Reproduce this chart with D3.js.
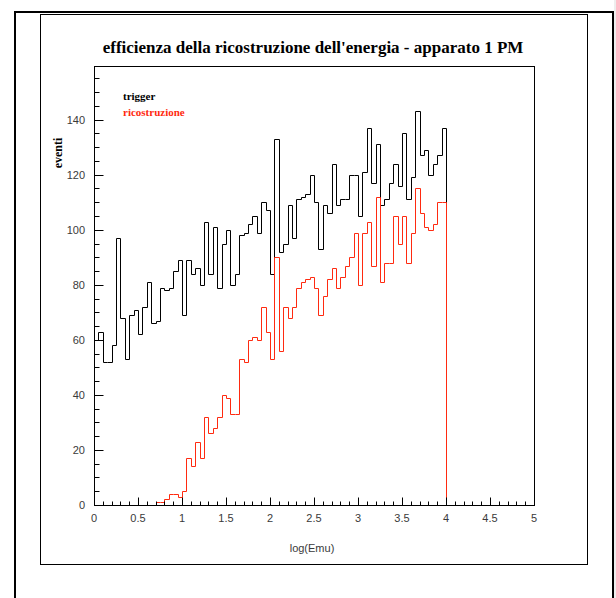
<!DOCTYPE html>
<html>
<head>
<meta charset="utf-8">
<script src="https://cdn.jsdelivr.net/npm/d3@7"></script>
<style>
  body { margin: 0; background: #fff; }
  .tick-label { font-family: "Liberation Sans", Arial, sans-serif; font-size: 11px; fill: #3a3a3a; }
</style>
</head>
<body>
<div id="viz"></div>
<script>
// bin contents, 80 bins of 0.05 from 0 to 4
var trigger = [60, 63, 52, 52, 58, 97, 68, 53, 69, 71, 62, 72, 81, 66, 67, 79, 78,
    79, 85, 89, 69, 89, 84, 86, 80, 103, 84, 101, 79, 95, 100, 80, 84, 98, 99,
    102, 105, 99, 110, 107, 84, 133, 92, 95, 109, 97, 111, 112, 113, 120, 110, 93,
    109, 106, 124, 109, 111, 111, 120, 120, 105, 121, 137, 117, 131, 109, 111, 117, 124, 116,
    135, 111, 119, 143, 127, 129, 120, 124, 127, 137];
var ricostruzione = [0, 0, 0, 0, 0, 0, 0, 0, 0, 0, 0, 0, 0, 0,
    1, 1, 2, 4, 4, 3, 5,
    17, 14, 23, 17, 32, 26, 28, 32, 40, 39, 33, 33, 53,
    52, 60, 61, 60, 72, 63, 53, 90, 56, 72, 68, 72, 79, 81, 82, 83, 79, 69,
    76, 82, 86, 79, 83, 87, 90, 99, 80, 99, 103, 87, 112, 81, 88, 88, 105, 95,
    105, 88, 99, 115, 106, 101, 100, 102, 110, 110];
var binWidth = 0.05;
var xTicks = [0, 0.5, 1, 1.5, 2, 2.5, 3, 3.5, 4, 4.5, 5];
var yTicks = [0, 20, 40, 60, 80, 100, 120, 140];
var legendLabels = ['trigger', 'ricostruzione'];
var legendColors = ['#000', '#ff2a10'];

var W = 616, H = 598;
var svg = d3.select('#viz').append('svg')
    .attr('width', W)
    .attr('height', H);

svg.append('rect').attr('width', W).attr('height', H).attr('fill', '#fff');
svg.append('rect').attr('x', 614).attr('y', 0).attr('width', 2).attr('height', H).attr('fill', '#eee');

// canvas + pad borders
svg.append('path')
    .attr('d', 'M15,' + H + ' V12 H613 V' + H)
    .attr('fill', 'none')
    .attr('stroke', '#000')
    .attr('stroke-width', 2);
svg.append('rect')
    .attr('x', 40.5).attr('y', 14.5)
    .attr('width', 547).attr('height', 550)
    .attr('fill', 'none')
    .attr('stroke', '#000');

var x = d3.scaleLinear().domain([0, 5]).range([94, 534]);
var y = d3.scaleLinear().domain([0, 159.5]).range([505, 66]);
function px(v) { return Math.round(x(v)) + 0.5; }
function py(v) { return Math.round(y(v)) + 0.5; }
var frameL = px(0), frameR = px(5), frameB = py(0), frameT = 66.5;

// title
svg.append('text')
    .attr('x', 313).attr('y', 53)
    .attr('text-anchor', 'middle')
    .style('font-family', '"Liberation Serif", "Times New Roman", serif')
    .style('font-weight', 'bold')
    .style('font-size', '17px')
    .text("efficienza della ricostruzione dell'energia - apparato 1 PM");

function histPoints(values) {
    var pts = [[0, 0]];
    values.forEach(function (v, i) { pts.push([i * binWidth, v]); });
    pts.push([values.length * binWidth, 0]);
    return pts;
}

var line = d3.line()
    .x(function (d) { return px(d[0]); })
    .y(function (d) { return py(d[1]); })
    .curve(d3.curveStepAfter);

svg.append('path')
    .attr('d', line(histPoints(trigger)))
    .attr('fill', 'none')
    .attr('stroke', legendColors[0])
    .attr('stroke-width', 1);

svg.append('path')
    .attr('d', line(histPoints(ricostruzione)))
    .attr('fill', 'none')
    .attr('stroke', legendColors[1])
    .attr('stroke-width', 1);

// frame
svg.append('rect')
    .attr('x', frameL).attr('y', frameT)
    .attr('width', frameR - frameL).attr('height', frameB - frameT)
    .attr('fill', 'none')
    .attr('stroke', '#000');

// y ticks (inside the frame)
var yMinor = d3.range(0, 160, 5);
svg.selectAll('line.ytick')
    .data(yMinor)
    .enter()
    .append('line')
    .attr('class', 'ytick')
    .attr('x1', frameL)
    .attr('x2', function (d) { return frameL + (d % 20 === 0 ? 9 : 5); })
    .attr('y1', function (d) { return py(d); })
    .attr('y2', function (d) { return py(d); })
    .attr('stroke', '#000');

svg.selectAll('text.ylab')
    .data(yTicks)
    .enter()
    .append('text')
    .attr('class', 'tick-label')
    .attr('x', 85)
    .attr('y', function (d) { return y(d) + 4; })
    .attr('text-anchor', 'end')
    .text(function (d) { return d; });

// x ticks
var xMinor = d3.range(0, 51).map(function (i) { return i / 10; });
svg.selectAll('line.xtick')
    .data(xMinor)
    .enter()
    .append('line')
    .attr('class', 'xtick')
    .attr('x1', function (d) { return px(d); })
    .attr('x2', function (d) { return px(d); })
    .attr('y1', frameB)
    .attr('y2', function (d, i) { return frameB - (i % 5 === 0 ? 8 : 4); })
    .attr('stroke', '#000');

svg.selectAll('text.xlab')
    .data(xTicks)
    .enter()
    .append('text')
    .attr('class', 'tick-label')
    .attr('x', function (d) { return x(d); })
    .attr('y', 522)
    .attr('text-anchor', 'middle')
    .text(function (d) { return d; });

// axis titles
svg.append('text')
    .attr('class', 'tick-label')
    .attr('x', 312).attr('y', 552)
    .attr('text-anchor', 'middle')
    .text('log(Emu)');

svg.append('text')
    .attr('transform', 'translate(62,153) rotate(-90)')
    .attr('text-anchor', 'middle')
    .style('font-family', '"Liberation Serif", "Times New Roman", serif')
    .style('font-weight', 'bold')
    .style('font-size', '12px')
    .text('eventi');

// legend
svg.selectAll('text.legend')
    .data(legendLabels)
    .enter()
    .append('text')
    .attr('class', 'legend')
    .attr('x', 123)
    .attr('y', function (d, i) { return 100 + i * 16; })
    .attr('fill', function (d, i) { return legendColors[i]; })
    .style('font-family', '"Liberation Serif", "Times New Roman", serif')
    .style('font-weight', 'bold')
    .style('font-size', '11px')
    .text(function (d) { return d; });
</script>
</body>
</html>
